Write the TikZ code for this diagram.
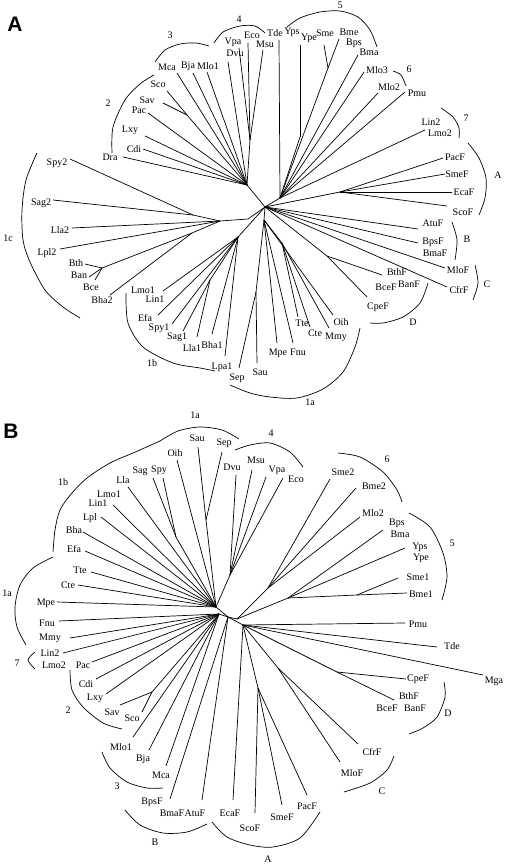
\documentclass[tikz,border=0pt]{standalone}
\usepackage{fontspec}
\setmainfont{Liberation Serif}
\newfontfamily\panelfont{Liberation Sans}
\usepackage{tikz}

\newcommand{\leaves}[3]{%
  \foreach \n/\tx/\ty/\lx/\ly in {#3}{
    \coordinate (#1t\n) at (\tx,\ty);
    \node[taxon] (#1\n) at (\lx,\ly) {\n};
    \draw (#2) -- (#1t\n);
  }
}
\newcommand{\clade}[4]{%
  \draw plot[smooth] coordinates {#1};
  \node[cladename] (#2) at (#3) {#4};
}

\tikzset{
  taxon/.style={inner sep=0pt,font=\fontsize{10}{12}\selectfont},
  cladename/.style={inner sep=0pt,font=\fontsize{10}{12}\selectfont},
  panel/.style={inner sep=0pt,font=\panelfont\bfseries\fontsize{21}{21}\selectfont},
}

\begin{document}
\begin{tikzpicture}[x=1pt,y=-1pt,line width=0.7pt]
\useasboundingbox (0,0) rectangle (504,864);

\node[panel] (pA) at (15,24) {A};
\node[panel] (pB) at (11,431) {B};

% tree A
\coordinate (cA) at (265,207);
\coordinate (hTL) at (247,185);
\coordinate (h4) at (250,140);
\coordinate (aj2) at (187,115);
\coordinate (hTR) at (280,198);
\coordinate (hY) at (300,137);
\coordinate (hSm) at (328,68);
\coordinate (hA) at (340,192);
\coordinate (hD) at (327,256);
\coordinate (h1a) at (264,220);
\coordinate (hTC) at (282,243);
\coordinate (hSS) at (256,292);
\coordinate (h1b) at (238,237);
\coordinate (hSL) at (210,280);
\coordinate (hL) at (248,219);
\coordinate (h1c) at (220,221);
\coordinate (hSp) at (193,215);
\coordinate (hBa) at (192,233);
\coordinate (hBac) at (102,268);

\foreach \p/\q in {cA/hTL,cA/hTR,cA/hA,cA/hD,cA/h1a,cA/h1b,cA/hL,hTL/h4,hTL/aj2,hTR/hY,hTR/hSm,h1a/hTC,h1a/hSS,h1b/hSL,hL/h1c,h1c/hSp,h1c/hBa,hBa/hBac}
  \draw (\p) -- (\q);

\leaves{a}{hTL}{Mca/177/73/167/67, Bja/193/73/188/66, Mlo1/207/72/208/66, Dvu/228/62/235/53, Pac/148/113/139/110, Lxy/145/136/130/130, Cdi/143/149/134/149, Dra/123/157/110/157}
\leaves{a}{aj2}{Sco/167/91/158/84, Sav/163/103/147/100}
\leaves{a}{h4}{Vpa/239/48/233/42, Eco/248/43/252/35, Msu/263/50/265/44}
\leaves{a}{hTR}{Tde/279/40/275/33, Bps/358/55/354/43, Mlo3/364/72/377/70, Mlo2/378/93/389/87, Pmu/405/92/417/93, Lin2/425/130/431/122}
\leaves{a}{hY}{Yps/300/45/292/32}
\leaves{a}{hSm}{Bme/339/39/349/32, Sme/324/45/325/33}
\node[taxon] (aYpe) at (309,38) {Ype};
\node[taxon] (aBma) at (369,52) {Bma};
\node[taxon] (aLmo2) at (440,133) {Lmo2};
\leaves{a}{hA}{PacF/443/158/455/157, SmeF/445/174/457/174, EcaF/452/192/464/192, ScoF/447/206/463/212}
\leaves{a}{cA}{AtuF/418/229/433/223, BpsF/418/243/433/242, MloF/445/268/458/270, CfrF/447/287/459/290}
\node[taxon] (aBmaF) at (435,253) {BmaF};
\leaves{a}{hD}{CpeF/367/297/378/307, BthF/382/275/397/272}
\node[taxon] (aBceF) at (386,287) {BceF};
\node[taxon] (aBanF) at (409,284) {BanF};
\leaves{a}{h1a}{Mpe/277/343/278/353, Fnu/293/343/298/352, Oih/333/315/341/322}
\leaves{a}{hTC}{Tte/298/317/302/323, Cte/310/327/315/333, Mmy/329/328/336/337}
\leaves{a}{hSS}{Sau/257/363/260/372, Sep/239/368/237/378}
\leaves{a}{h1b}{Lmo1/163/291/143/290, Efa/158/315/145/318, Spy1/172/324/159/328, Bha1/212/334/212/345, Lpa1/225/356/222/367}
\node[taxon] (aLin1) at (155,299) {Lin1};
\leaves{a}{hSL}{Sag1/183/331/177/337, Lla1/197/337/192/348}
\leaves{a}{h1c}{Lla2/72/228/60/230, Lpl2/60/249/47/253}
\leaves{a}{hSp}{Spy2/70/159/57/163, Sag2/53/200/41/203}
\leaves{a}{hBa}{Bha2/110/295/102/300}
\leaves{a}{hBac}{Bth/85/264/76/263, Ban/89/277/79/275, Bce/95/280/91/287}

\clade{(37,153) (26,180) (22,210) (23,240) (30,262) (45,290) (63,307) (80,318)}{a1c}{8,238}{1c}
\clade{(112,153) (113,127) (125,100) (140,84) (154,75)}{a2}{108,103}{2}
\clade{(155,62) (165,50) (180,44) (196,43) (209,46)}{a3}{170,35}{3}
\clade{(214,43) (223,32) (240,26) (255,26) (265,33)}{a4}{239,19}{4}
\clade{(287,27) (300,18) (320,12) (340,11) (358,17) (370,30) (377,47)}{a5}{340,5}{5}
\clade{(393,71) (401,75) (406,86)}{a6}{409,69}{6}
\clade{(441,108) (453,117) (459,128) (459,138)}{a7}{466,118}{7}
\clade{(468,143) (479,158) (486,178) (485,198) (479,215)}{aA}{498,175}{A}
\clade{(452,222) (457,240) (455,260)}{aB}{467,239}{B}
\clade{(475,265) (478,283) (473,300)}{aC}{487,284}{C}
\clade{(428,283) (420,303) (403,317) (383,323) (370,323)}{aD}{413,322}{D}
\clade{(360,328) (355,347) (343,372) (323,389) (297,398) (270,397) (250,393) (230,385)}{a1a}{310,402}{1a}
\clade{(126,293) (128,323) (143,347) (173,363) (200,368) (215,371)}{a1b}{152,363}{1b}

% tree B
\coordinate (cB) at (228,617);
\coordinate (hUL) at (216,607);
\coordinate (hLL) at (219,614);
\coordinate (hSSB) at (206,520);
\coordinate (hSgB) at (176,537);
\coordinate (h4B) at (230,575);
\coordinate (hSvB) at (152,692);
\coordinate (hURc) at (237,619);
\coordinate (h6B) at (268,588);
\coordinate (h5B) at (288,598);
\coordinate (hS1) at (357,595);
\coordinate (hRc) at (243,625);
\coordinate (hDB) at (337,672);
\coordinate (hCB) at (278,668);
\coordinate (hAB) at (258,688);

\foreach \p/\q in {cB/hUL,cB/hLL,cB/hURc,cB/hRc,hUL/hSSB,hUL/hSgB,hUL/h4B,hLL/hSvB,hURc/h6B,hURc/h5B,h5B/hS1,hRc/hDB,hRc/hCB,hRc/hAB}
  \draw (\p) -- (\q);

\leaves{b}{hUL}{Lla/128/487/123/480, Lmo1/113/505/109/494, Lpl/101/517/90/518, Bha/83/532/74/530, Efa/85/551/74/549, Tte/91/572/80/570, Cte/78/585/68/585, Mpe/57/602/46/603, Oih/177/460/175/453}
\node[taxon] (bLin1) at (98,503) {Lin1};
\leaves{b}{hSgB}{Sag/153/478/140/471, Spy/163/478/159/470}
\leaves{b}{hSSB}{Sau/198/447/197/438, Sep/222/452/224/443}
\leaves{b}{h4B}{Dvu/236/475/232/467, Msu/252/470/256/460, Vpa/266/477/277/470, Eco/283/478/296/479}
\leaves{b}{hLL}{Fnu/59/621/47/623, Mmy/70/638/50/638, Lin2/63/653/50/653, Pac/92/662/83/665, Cdi/96/679/86/684, Lxy/106/694/95/698, Mlo1/133/737/121/747, Bja/149/750/143/759, Mca/166/766/161/775}
\node[taxon] (bLmo2) at (54,665) {Lmo2};
\leaves{b}{hSvB}{Sav/120/705/112/712, Sco/142/712/132/718}
\leaves{b}{cB}{BpsF/170/799/152/802, AtuF/202/800/195/813}
\node[taxon] (bBmaF) at (172,813) {BmaF};
\leaves{b}{h6B}{Sme2/330/479/343/472, Bme2/356/488/374/486, Mlo2/360/517/373/513}
\leaves{b}{h5B}{Bps/383/530/397/523, Yps/405/548/420/547}
\node[taxon] (bBma) at (400,534) {Bma};
\node[taxon] (bYpe) at (421,558) {Ype};
\leaves{b}{hS1}{Bme1/407/593/421/594, Sme1/398/578/418/577}
\leaves{b}{hRc}{Pmu/405/623/418/624, Tde/437/647/452/646, Mga/483/675/494/681, EcaF/233/800/230/813}
\leaves{b}{hDB}{CpeF/406/679/418/679, BthF/394/700/409/696}
\node[taxon] (bBceF) at (387,708) {BceF};
\node[taxon] (bBanF) at (415,708) {BanF};
\leaves{b}{hCB}{CfrF/358/744/372/752, MloF/340/762/352/773}
\leaves{b}{hAB}{ScoF/255/813/250/828, SmeF/282/805/282/817, PacF/307/795/307/806}

\clade{(160,441) (178,431) (200,427) (222,430) (239,439)}{b1a}{195,415}{1a}
\clade{(235,450) (250,445) (270,443) (290,452) (303,467)}{b4}{271,433}{4}
\clade{(338,453) (360,457) (383,472) (397,490) (402,502)}{b6}{387,459}{6}
\clade{(409,513) (430,527) (443,553) (447,577) (442,600)}{b5}{452,543}{5}
\clade{(444,682) (445,697) (437,717) (423,728) (409,734)}{bD}{448,713}{D}
\clade{(394,756) (387,770) (370,783) (344,792)}{bC}{382,791}{C}
\clade{(212,822) (227,837) (250,845) (273,847) (300,838) (320,812)}{bA}{268,859}{A}
\clade{(125,810) (140,825) (163,833) (187,832) (207,824)}{bB}{155,842}{B}
\clade{(102,752) (110,768) (127,782) (147,788) (163,788)}{b3}{117,786}{3}
\clade{(70,670) (72,690) (83,707) (103,723) (122,729)}{b2}{68,710}{2}
\clade{(35,652) (28,660) (35,669)}{b7}{17,663}{7}
\clade{(53,557) (33,568) (20,585) (15,607) (17,627) (26,645)}{b1aL}{7,593}{1a}
\clade{(53,552) (55,530) (60,510) (72,493) (87,478) (110,463) (133,453) (160,441)}{b1b}{63,482}{1b}
\end{tikzpicture}
\end{document}
